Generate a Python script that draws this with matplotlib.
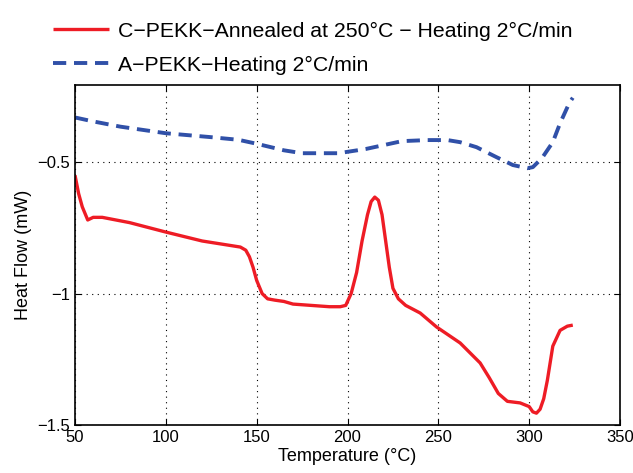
import matplotlib.pyplot as plt
import numpy as np

plt.rcParams['font.family'] = ['Liberation Sans', 'DejaVu Sans']

# C-PEKK annealed at 250 C, heating 2 C/min
t_c = [50, 52, 54, 57, 60, 65, 80, 100, 120, 141, 144, 146, 148, 150, 153, 156, 160,
       165, 170, 180, 190, 196, 199, 202, 205, 208, 211, 213, 215, 217, 219, 221,
       223, 225, 228, 232, 240, 249, 262, 273, 278, 283, 288, 295, 300, 302, 304,
       306, 308, 310, 313, 317, 321, 324]
hf_c = [-0.55, -0.62, -0.67, -0.72, -0.71, -0.71, -0.73, -0.766, -0.80, -0.823,
        -0.835, -0.86, -0.90, -0.95, -1.0, -1.02, -1.025, -1.03, -1.04, -1.045,
        -1.05, -1.05, -1.045, -1.0, -0.92, -0.80, -0.70, -0.65, -0.633, -0.645,
        -0.70, -0.80, -0.90, -0.98, -1.02, -1.045, -1.074, -1.127, -1.188, -1.264,
        -1.32, -1.38, -1.41, -1.416, -1.43, -1.45, -1.455, -1.44, -1.40, -1.33,
        -1.20, -1.14, -1.124, -1.12]

# A-PEKK, heating 2 C/min
t_a = [50, 60, 75, 100, 125, 140, 150, 165, 175, 195, 210, 220, 230, 244, 255,
       262, 271, 282, 291, 299, 302, 307, 313, 317, 322, 324]
hf_a = [-0.33, -0.345, -0.365, -0.39, -0.405, -0.415, -0.43, -0.455, -0.466,
        -0.466, -0.45, -0.435, -0.42, -0.416, -0.416, -0.424, -0.443, -0.481,
        -0.511, -0.523, -0.519, -0.485, -0.424, -0.352, -0.276, -0.255]

x_ticks = [50, 100, 150, 200, 250, 300, 350]
y_ticks = [-1.5, -1, -0.5]
y_labels = ['\u22121.5', '\u22121', '\u22120.5']

fig = plt.figure(figsize=(6.33, 4.73), dpi=100)
ax = fig.add_axes([0.1185, 0.1015, 0.861, 0.7185])

l1, = ax.plot(t_c, hf_c, color='#ee1c25', lw=2.4, solid_capstyle='butt')
l2, = ax.plot(t_a, hf_a, color='#3050a8', lw=2.8, linestyle=(0, (3.4, 2.0)))

ax.set_xlim(50, 350)
ax.set_ylim(-1.5, -0.207)
ax.set_xticks(x_ticks)
ax.set_yticks(y_ticks)
ax.set_yticklabels(y_labels)
ax.grid(True, color='black', linestyle=(0, (1, 4)), lw=0.8)
ax.tick_params(direction='in', top=True, right=True, labelsize=12, length=4)
for s in ax.spines.values():
    s.set_linewidth(1.2)
ax.set_xlabel('Temperature (°C)', fontsize=13, labelpad=2)
ax.set_ylabel('Heat Flow (mW)', fontsize=13)

fig.legend([l1, l2],
           ['C\u2212PEKK\u2212Annealed at 250°C \u2212 Heating 2°C/min',
            'A\u2212PEKK\u2212Heating 2°C/min'],
           loc='upper left', bbox_to_anchor=(0.054, 0.995), frameon=False,
           fontsize=15.3, handlelength=2.6, handletextpad=0.45, labelspacing=0.72)

fig.savefig('out.png', dpi=100)
